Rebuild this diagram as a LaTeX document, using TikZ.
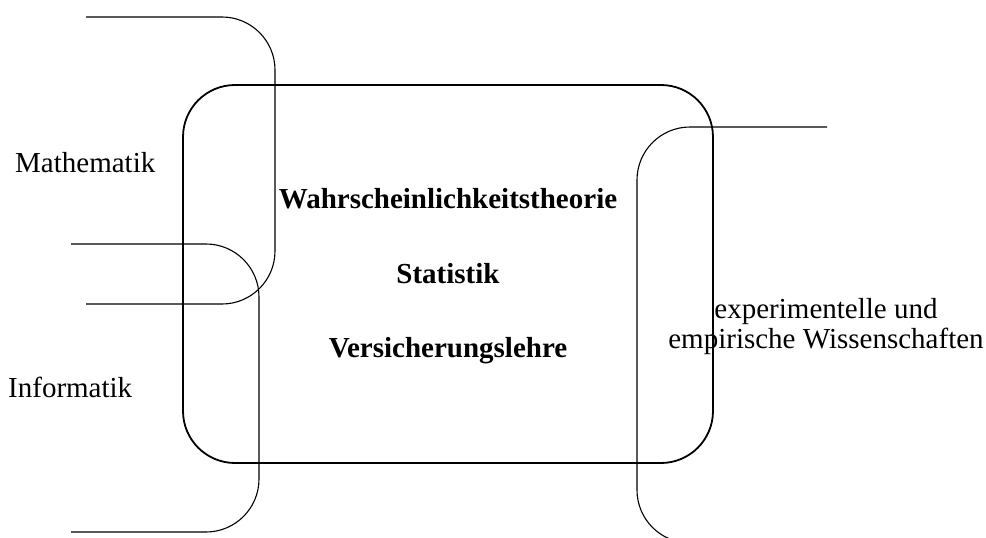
\documentclass[tikz,border=0pt]{standalone}
\usepackage{fontspec}
\setmainfont{Liberation Serif}
\begin{document}
\begin{tikzpicture}[x=1pt,y=-1pt,
  thinline/.style={line width=1.1pt, rounded corners=53pt},
  mainbox/.style={draw, line width=1.8pt, rounded corners=52pt, minimum width=530pt, minimum height=378pt, inner sep=0pt},
  lbl/.style={inner sep=0pt, font=\fontsize{29}{30}\selectfont},
  blbl/.style={inner sep=0pt, font=\fontsize{29}{30}\selectfont\bfseries}]
\useasboundingbox (0,0) rectangle (986,538);
\clip (0,0) rectangle (986,538);
% central box
\node[mainbox] (center) at (448,274) {};
% outer open shapes
\coordinate (m1) at (86,17);
\coordinate (m2) at (86,304);
\draw[thinline] (m1) -- (275,17) -- (275,304) -- (m2);
\coordinate (i1) at (71,244);
\coordinate (i2) at (71,532);
\draw[thinline] (i1) -- (259,244) -- (259,532) -- (i2);
\coordinate (e1) at (827,127);
\coordinate (e2) at (827,543);
\draw[thinline] (e1) -- (637,127) -- (637,543) -- (e2);
% labels
\node[lbl, anchor=base west] (math) at (15,172) {Mathematik};
\node[lbl, anchor=base west] (info) at (8,397) {Informatik};
\node[lbl, anchor=base, align=center] (emp) at (826,348) {experimentelle und\\empirische Wissenschaften};
\node[blbl, anchor=base] (wt) at (448,208) {Wahrscheinlichkeitstheorie};
\node[blbl, anchor=base] (st) at (448,283) {Statistik};
\node[blbl, anchor=base] (vl) at (448,357) {Versicherungslehre};
\end{tikzpicture}
\end{document}
